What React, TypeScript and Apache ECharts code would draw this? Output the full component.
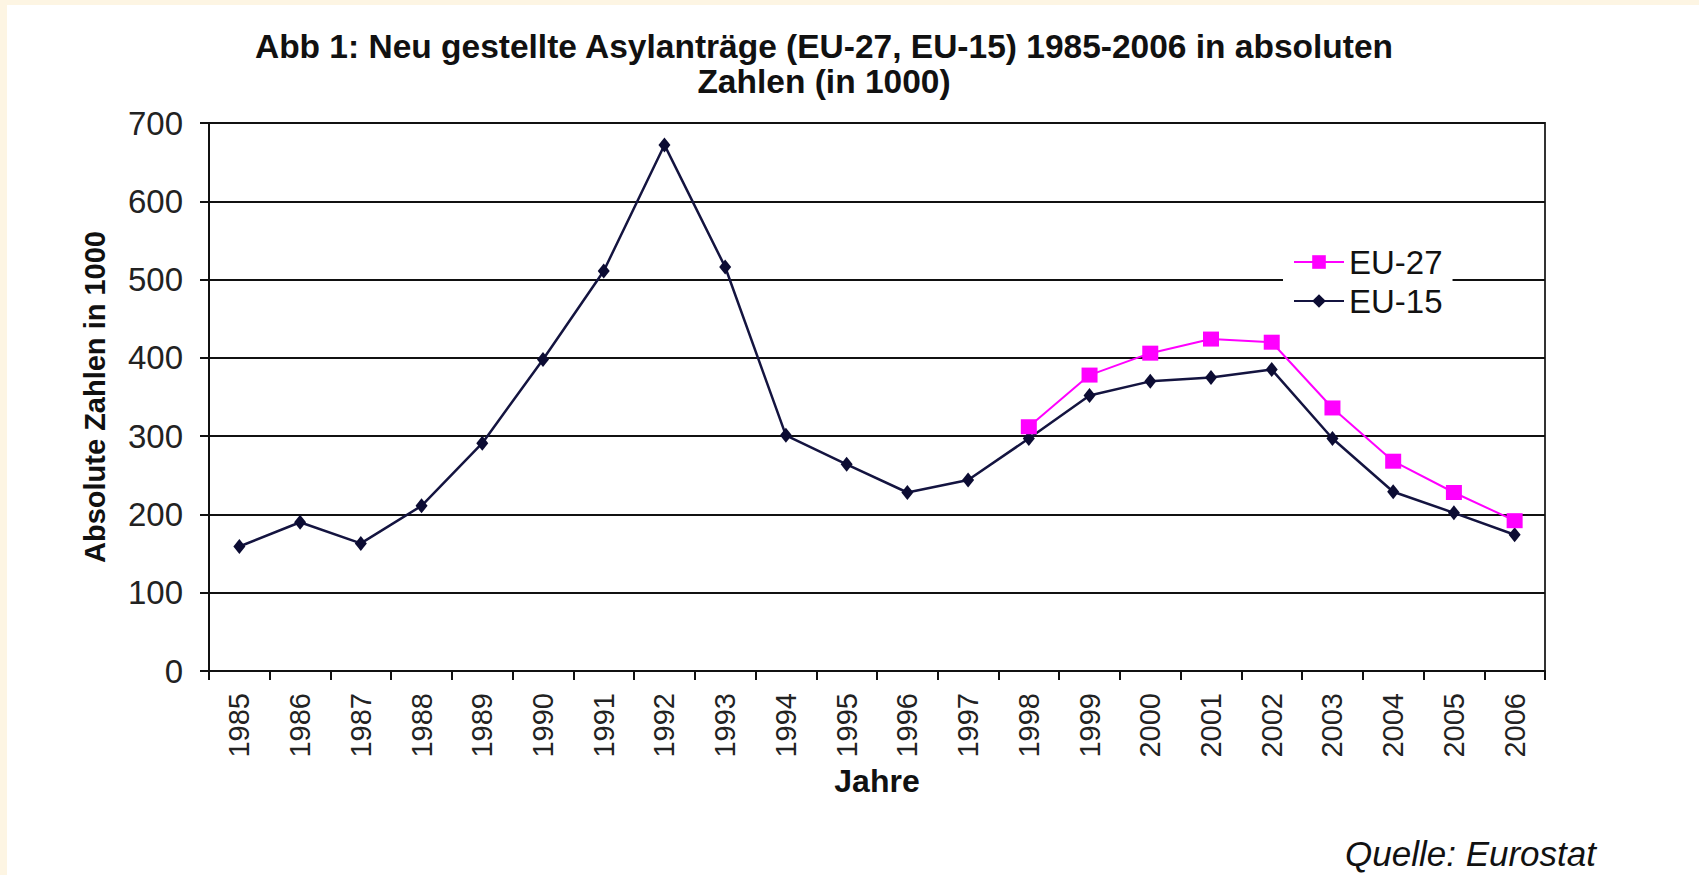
import React, { useEffect, useRef } from "react";
import * as echarts from "echarts";

const years = [
  "1985", "1986", "1987", "1988", "1989", "1990", "1991", "1992", "1993", "1994", "1995",
  "1996", "1997", "1998", "1999", "2000", "2001", "2002", "2003", "2004", "2005", "2006",
];
const eu15 = [159, 190, 163, 211, 291, 398, 511, 672, 516, 301, 264, 228, 244, 297, 352, 370, 375, 385, 297, 229, 202, 174];
const eu27 = [null, null, null, null, null, null, null, null, null, null, null, null, null, 312, 378, 406, 424, 420, 336, 268, 228, 192];

const titleText = "Abb 1: Neu gestellte Asylanträge (EU-27, EU-15) 1985-2006 in absoluten\nZahlen (in 1000)";
const yAxisName = "Absolute Zahlen in 1000";
const xAxisName = "Jahre";
const sourceText = "Quelle: Eurostat";

const FONT = '"Liberation Sans", Arial, sans-serif';

export default function App() {
  const ref = useRef<HTMLDivElement>(null);
  useEffect(() => {
    if (!ref.current) return;
    const chart = echarts.init(ref.current, null, { renderer: "svg" });
    chart.setOption({
      animation: false,
      backgroundColor: "#ffffff",
      textStyle: { fontFamily: FONT },
      graphic: [
        { type: "rect", shape: { x: 0, y: 0, width: 1699, height: 5 }, style: { fill: "#fdf5e3" }, silent: true },
        { type: "rect", shape: { x: 0, y: 0, width: 7, height: 875 }, style: { fill: "#fdf5e3" }, silent: true },
        {
          type: "text",
          style: {
            text: titleText,
            x: 824,
            y: 29,
            align: "center",
            verticalAlign: "top",
            font: `bold 33.5px ${FONT}`,
            lineHeight: 35,
            fill: "#111111",
          },
        },
        {
          type: "text",
          style: {
            text: sourceText,
            x: 1596,
            y: 853,
            align: "right",
            verticalAlign: "middle",
            font: `italic 35px ${FONT}`,
            fill: "#111111",
          },
        },
      ],
      grid: {
        left: 209,
        right: 154,
        top: 123,
        bottom: 204,
        show: true,
        borderColor: "#333333",
        borderWidth: 2,
        backgroundColor: "transparent",
      },
      legend: {
        orient: "vertical",
        left: 1283,
        top: 240,
        padding: [4, 10, 4, 10],
        backgroundColor: "#ffffff",
        itemWidth: 50,
        itemHeight: 17,
        itemGap: 3,
        textStyle: { fontSize: 33, lineHeight: 36, color: "#111111", fontFamily: FONT },
        data: ["EU-27", "EU-15"],
      },
      xAxis: {
        type: "category",
        data: years,
        boundaryGap: true,
        name: xAxisName,
        nameLocation: "middle",
        nameGap: 92,
        nameTextStyle: { fontSize: 32, fontWeight: "bold", color: "#111111", fontFamily: FONT, verticalAlign: "top" },
        axisLine: { lineStyle: { color: "#111111", width: 2 } },
        axisTick: { show: true, length: 9, lineStyle: { color: "#111111", width: 2 } },
        axisLabel: { rotate: 90, fontSize: 29, color: "#222222", margin: 22, fontFamily: FONT, interval: 0 },
        splitLine: { show: false },
      },
      yAxis: {
        type: "value",
        min: 0,
        max: 700,
        interval: 100,
        name: yAxisName,
        nameLocation: "middle",
        nameGap: 100,
        nameRotate: 90,
        nameTextStyle: { fontSize: 29, fontWeight: "bold", color: "#111111", fontFamily: FONT },
        axisLine: { show: true, lineStyle: { color: "#111111", width: 2 } },
        axisTick: { show: true, length: 9, lineStyle: { color: "#111111", width: 2 } },
        axisLabel: { fontSize: 33, color: "#222222", margin: 26, fontFamily: FONT },
        splitLine: { show: true, lineStyle: { color: "#111111", width: 2 } },
      },
      series: [
        {
          name: "EU-27",
          type: "line",
          data: eu27,
          connectNulls: false,
          symbol: "rect",
          symbolSize: [16, 15],
          lineStyle: { color: "#ff00ff", width: 2 },
          itemStyle: { color: "#ff00ff" },
          z: 3,
        },
        {
          name: "EU-15",
          type: "line",
          data: eu15,
          symbol: "diamond",
          symbolSize: [12, 15],
          lineStyle: { color: "#141440", width: 2.5 },
          itemStyle: { color: "#0c0c33" },
          z: 2,
        },
      ],
    });
    return () => chart.dispose();
  }, []);
  return <div ref={ref} style={{ position: "fixed", left: 0, top: 0, width: 1699, height: 875 }} />;
}
